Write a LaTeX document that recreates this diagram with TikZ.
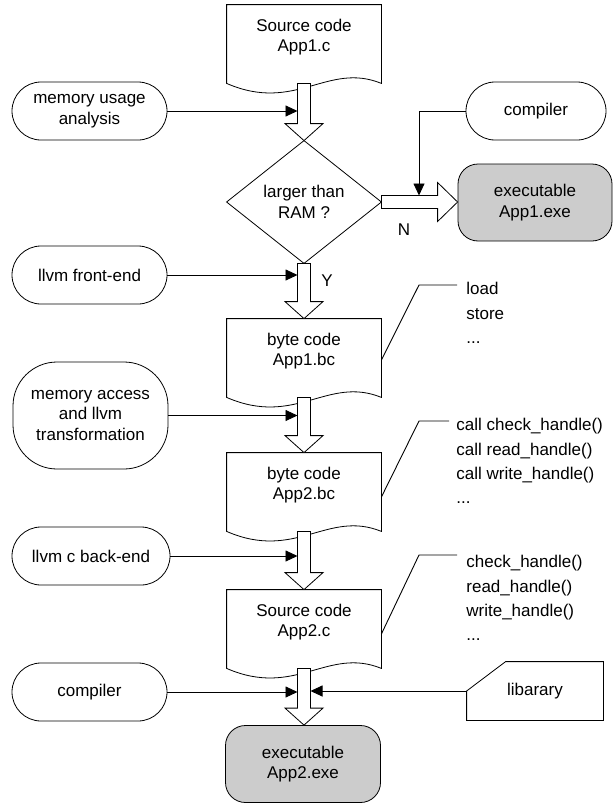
\documentclass[tikz,border=0pt]{standalone}
\usepackage{fontspec}
\setmainfont{Liberation Sans}
\usetikzlibrary{calc,arrows.meta}

% document symbol: node body plus a wavy lower edge
\newcommand\docframe[1]{%
  \draw (#1.north west) -- (#1.north east) -- ([yshift=-14pt]#1.south east)
    .. controls ([xshift=-54pt,yshift=8pt]#1.south east) and ([xshift=69pt,yshift=-44pt]#1.south west)
    .. ([yshift=-14pt]#1.south west) -- cycle;}
% hollow block arrow pointing down, from #1 to #2
\newcommand\blockdown[2]{%
  \draw[fill=white] let \p1=(#1), \p2=(#2) in
    (\x1-6.5pt,\y1) -- (\x1+6.5pt,\y1) -- (\x1+6.5pt,\y2+17pt) -- (\x1+19pt,\y2+17pt)
    -- (\x1,\y2) -- (\x1-19pt,\y2+17pt) -- (\x1-6.5pt,\y2+17pt) -- cycle;}

\tikzset{
  every node/.style={font=\fontsize{17}{20.5}\selectfont, align=center, inner sep=0pt},
  doc/.style={minimum width=154pt, minimum height=64pt},
  term/.style={draw, rounded corners=29pt, minimum width=155pt, minimum height=58pt},
  exebox/.style={draw, fill=black!20, rounded corners=20pt, minimum width=155pt, minimum height=77pt},
  note/.style={anchor=west, align=left, font=\fontsize{17}{24.3}\selectfont},
  feed/.style={line width=0.9pt, draw=black, -{Triangle[length=12pt,width=11pt]}},
  callout/.style={line width=0.9pt, draw=black},
  every path/.style={line width=0.8pt}
}

\begin{document}
\begin{tikzpicture}[x=1pt,y=-1pt]
\useasboundingbox (0,0) rectangle (614,803);

% main chain
\node[doc] (src1) at (304,37) {Source code\\App1.c};
\node[minimum width=154pt, minimum height=122pt] (dia) at (304,202) {larger than\\RAM ?};
\node[doc] (bc1) at (304,351) {byte code\\App1.bc};
\node[doc] (bc2) at (304,485) {byte code\\App2.bc};
\node[doc] (src2) at (304,622) {Source code\\App2.c};
\node[exebox] (exe2) at (303,764) {executable\\App2.exe};
\node[exebox, minimum width=154pt] (exe1) at (535,202.5) {executable\\App1.exe};

\docframe{src1}
\docframe{bc1}
\docframe{bc2}
\docframe{src2}
\draw (dia.north) -- (dia.east) -- (dia.south) -- (dia.west) -- cycle;

% tools on the left and right
\node[term] (mua) at (89.5,111) {memory usage\\analysis};
\node[term, minimum width=140pt] (comp1) at (536,111) {compiler};
\node[term] (fe) at (89.5,275) {llvm front-end};
\node[term, rounded corners=44pt, minimum height=107pt] (mat) at (90.5,415.5) {memory access\\and llvm\\transformation};
\node[term, minimum width=158pt] (be) at (91,556) {llvm c back-end};
\node[term] (comp2) at (89.5,692) {compiler};
\node[minimum width=136pt, minimum height=58pt] (lib) at (535,691) {libarary};
\draw (lib.west) -- ([xshift=39pt]lib.north west) -- (lib.north east) -- (lib.south east) -- (lib.south west) -- cycle;

% block arrows between stages
\blockdown{[yshift=-14pt]src1.south}{dia.north}
\blockdown{dia.south}{bc1.north}
\blockdown{[yshift=-14pt]bc1.south}{bc2.north}
\blockdown{[yshift=-14pt]bc2.south}{src2.north}
\blockdown{[yshift=-14pt]src2.south}{exe2.north}
\draw[fill=white] let \p1=(dia.east), \p2=(exe1.west) in
  (\x1,\y1+6.5pt) -- (\x2-20pt,\y1+6.5pt) -- (\x2-20pt,\y1+19.5pt) -- (\x2,\y1)
  -- (\x2-20pt,\y1-19.5pt) -- (\x2-20pt,\y1-6.5pt) -- (\x1,\y1-6.5pt) -- cycle;

\node at (404,230) {N};
\node at (327,281) {Y};

% shaft edges where the feeding lines end
\coordinate (sl) at (297.5,0);
\coordinate (sr) at (310.5,0);
\coordinate (nt) at (419,195.5);

\draw[feed] (mua.east) -- (mua.east -| sl);
\draw[feed] (comp1.west) -| (nt);
\draw[feed] (fe.east) -- (fe.east -| sl);
\draw[feed] (mat.east) -- (mat.east -| sl);
\draw[feed] (be.east) -- (be.east -| sl);
\draw[feed] (comp2.east) -- (comp2.east -| sl);
\draw[feed] (lib.west) -- (lib.west -| sr);

% annotations
\node[note] (t1) at (466,313) {load\\store\\...};
\node[note] (t2) at (456,461) {call check\_handle()\\call read\_handle()\\call write\_handle()\\...};
\node[note] (t3) at (466,598) {check\_handle()\\read\_handle()\\write\_handle()\\...};
\coordinate (k1) at (457,285);
\coordinate (k2) at (449,421);
\coordinate (k3) at (457,555);
\draw[callout] ([yshift=-9pt]bc1.east) -- (419,285) -- (k1);
\draw[callout] ([yshift=-12pt]bc2.east) -- (419,421) -- (k2);
\draw[callout] ([yshift=-12pt]src2.east) -- (419,555) -- (k3);
\end{tikzpicture}
\end{document}
